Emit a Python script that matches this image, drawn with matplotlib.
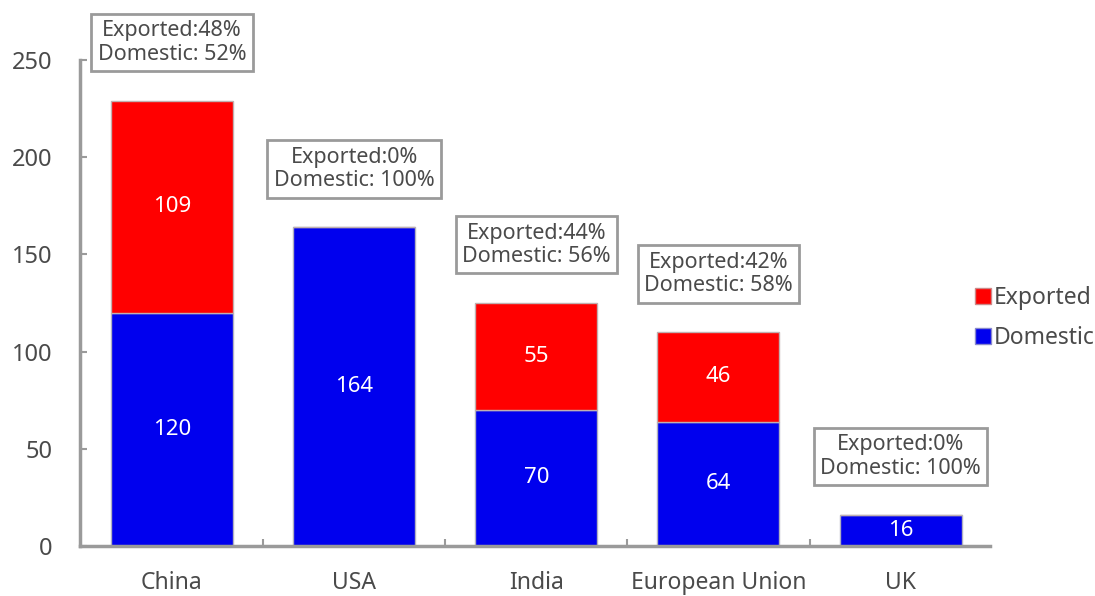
import matplotlib
matplotlib.use("Agg")
import matplotlib.pyplot as plt
from matplotlib.lines import Line2D
import numpy as np

categories = ["China", "USA", "India", "European Union", "UK"]
domestic = [120, 164, 70, 64, 16]
exported = [109, 0, 55, 46, 0]
pct_exported = ["48%", "0%", "44%", "42%", "0%"]
pct_domestic = ["52%", "100%", "56%", "58%", "100%"]
yticks = [0, 50, 100, 150, 200, 250]

plt.rcParams['font.family'] = ['Noto Sans', 'DejaVu Sans']
TXT = '#4a4a4a'
GRAY = '#9a9a9a'
RED = '#ff0000'
BLUE = '#0000ee'

fig = plt.figure(figsize=(10.95, 5.96), dpi=100)
ax = fig.add_axes([0.073, 0.084, 0.831, 0.815])

x = np.arange(len(categories))
w = 0.67
ax.bar(x, domestic, w, color=BLUE, edgecolor='#b0b0c0', linewidth=1, zorder=2)
ax.bar(x, exported, w, bottom=domestic, color=RED, edgecolor='#c0b0b0', linewidth=1, zorder=2)

for i in range(len(categories)):
    ax.text(x[i], domestic[i] / 2, str(domestic[i]), ha='center', va='center',
            color='white', fontsize=16)
    if exported[i] > 0:
        ax.text(x[i], domestic[i] + exported[i] / 2, str(exported[i]), ha='center',
                va='center', color='white', fontsize=16)
    total = domestic[i] + exported[i]
    ax.annotate(f"Exported:{pct_exported[i]}\nDomestic: {pct_domestic[i]}",
                xy=(x[i], total), xytext=(0, 42), textcoords='offset points',
                ha='center', va='center', fontsize=15.5, color=TXT,
                linespacing=1.15, annotation_clip=False,
                bbox=dict(boxstyle='square,pad=0.3', fc='white', ec=GRAY, lw=2))

ax.set_xlim(-0.505, 4.49)
ax.set_ylim(0, 250)
ax.set_yticks(yticks)
ax.set_yticklabels([str(t) for t in yticks])
ax.set_xticks(x)
ax.set_xticklabels(categories)
ax.set_xticks(x[:-1] + 0.5, minor=True)
ax.tick_params(axis='x', which='major', length=0, pad=18, labelsize=16.5, labelcolor=TXT)
ax.tick_params(axis='x', which='minor', direction='in', length=5, color=GRAY, width=1.5)
ax.tick_params(axis='y', direction='in', length=5, color=GRAY, width=1.5, pad=20,
               labelsize=17, labelcolor=TXT)
for s in ['top', 'right']:
    ax.spines[s].set_visible(False)
for s in ['left', 'bottom']:
    ax.spines[s].set_color(GRAY)
    ax.spines[s].set_linewidth(2.5)

handles = [Line2D([], [], marker='s', linestyle='none', markersize=12, color=RED, markeredgecolor='#cc8888'),
           Line2D([], [], marker='s', linestyle='none', markersize=12, color=BLUE, markeredgecolor='#8888cc')]
fig.legend(handles, ["Exported", "Domestic"], loc='center left', bbox_to_anchor=(0.872, 0.466),
           frameon=False, fontsize=16.5, labelcolor=TXT, handlelength=0.7, handletextpad=0.1,
           labelspacing=0.7)

fig.savefig("out.png", dpi=100)
